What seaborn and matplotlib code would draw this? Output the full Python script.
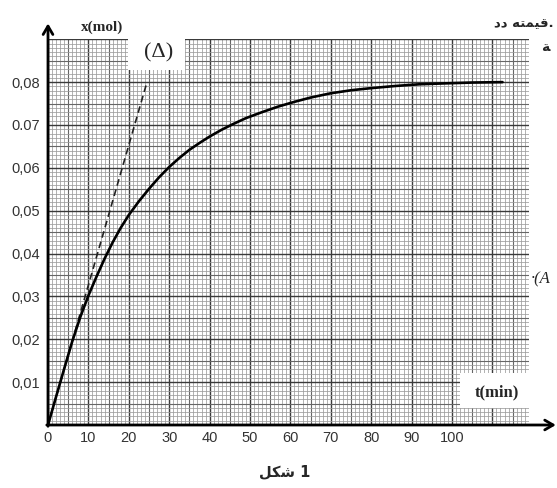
import matplotlib
matplotlib.use("Agg")
import matplotlib.pyplot as plt
import numpy as np
import pandas as pd
import seaborn as sns
from matplotlib.patches import Rectangle

# values
t_min = [0, 2, 4, 6, 8, 10, 12, 14, 16, 18, 20, 22.5, 25, 27.5, 30, 32.5, 35,
         37.5, 40, 43, 46, 49, 53, 57, 61, 65, 70, 75, 80, 86, 92, 98, 105,
         112.5]
x_mol = [0, 0.0066, 0.0131, 0.0195, 0.0252, 0.0302, 0.0346, 0.0388, 0.0426,
         0.0460, 0.0490, 0.0522, 0.0551, 0.0578, 0.0602, 0.0623, 0.0642,
         0.0658, 0.0673, 0.0689, 0.0703, 0.0716, 0.0730, 0.0743, 0.0754,
         0.0764, 0.0774, 0.0781, 0.0786, 0.0791, 0.0795, 0.0797, 0.0799,
         0.0800]

# tangent (Delta) at the origin
tangent_t = [0, 24.5]
tangent_x = [0, 0.080]

x_ticks = [0, 10, 20, 30, 40, 50, 60, 70, 80, 90, 100]
x_labels = ["0", "10", "20", "30", "40", "50", "60", "70", "80", "90", "100"]
y_ticks = [0.01, 0.02, 0.03, 0.04, 0.05, 0.06, 0.07, 0.08]
y_labels = ["0,01", "0,02", "0,03", "0,04", "0,05", "0,06", "0.07", "0,08"]

curve = pd.DataFrame({"t": t_min, "x": x_mol})
tangent = pd.DataFrame({"t": tangent_t, "x": tangent_x})

sns.set_style("white")
plt.rcParams['font.family'] = ['Liberation Sans', 'DejaVu Sans']

W, H = 557, 488
fig = plt.figure(figsize=(W / 100, H / 100), dpi=100)
XMAX, YMAX = 119, 0.09
ax = fig.add_axes([48 / W, (H - 425) / H, XMAX * 4.04 / W, YMAX * 4286 / H])
ax.set_xlim(0, XMAX)
ax.set_ylim(0, YMAX)

# graph paper
for i in range(0, XMAX + 1):
    if i % 10 == 0:
        c, lw = '#3a3a3a', 1.0
    elif i % 5 == 0:
        c, lw = '#666666', 0.8
    else:
        c, lw = '#9c9c9c', 0.55
    ax.axvline(i, color=c, lw=lw, zorder=0.5)
for j in range(0, 91):
    if j % 10 == 0:
        c, lw = '#3a3a3a', 1.0
    elif j % 5 == 0:
        c, lw = '#666666', 0.8
    else:
        c, lw = '#9c9c9c', 0.55
    ax.axhline(j * 0.001, color=c, lw=lw, zorder=0.5)

# white blanks on the paper behind labels
ax.add_patch(Rectangle((19.8, 0.0828), 14.1, 0.0075, facecolor='white',
                       edgecolor='none', zorder=1, clip_on=False))
ax.add_patch(Rectangle((102, 0.0040), 17.5, 0.0081, facecolor='white',
                       edgecolor='none', zorder=1, clip_on=False))

sns.lineplot(data=curve, x="t", y="x", ax=ax, color='black', lw=1.9,
             zorder=4, sort=False)
sns.lineplot(data=tangent, x="t", y="x", ax=ax, color='#222222', lw=1.2,
             zorder=3, dashes=False, linestyle=(0, (4, 2.5)))

for s in ax.spines.values():
    s.set_visible(False)
ax.set_xlabel("")
ax.set_ylabel("")
ax.set_xticks(x_ticks)
ax.set_xticklabels(x_labels)
ax.set_yticks(y_ticks)
ax.set_yticklabels(y_labels)
ax.tick_params(length=0, labelsize=10.5, labelcolor='#333333')
ax.tick_params(axis='x', pad=4.5)
ax.tick_params(axis='y', pad=6)

# axes with arrows
ax.annotate("", xy=(125.7, 0), xytext=(-0.3, 0), annotation_clip=False,
            arrowprops=dict(arrowstyle='->,head_length=0.6,head_width=0.35',
                            lw=2, color='black', shrinkA=0, shrinkB=0))
ax.annotate("", xy=(0, 0.0937), xytext=(0, -0.0003), annotation_clip=False,
            arrowprops=dict(arrowstyle='->,head_length=0.6,head_width=0.35',
                            lw=2, color='black', shrinkA=0, shrinkB=0))


def px(x, y):
    return x / W, 1 - y / H


fig.text(*px(102, 27), "x(mol)", family='Liberation Serif', weight='bold',
         fontsize=11, ha='center', va='center')
fig.text(*px(159, 53), "(Δ)", family='Liberation Serif', fontsize=16,
         ha='center', va='center')
fig.text(*px(497, 392), "t(min)", family='Liberation Serif', weight='bold',
         fontsize=12, ha='center', va='center')
fig.text(*px(285, 472), "\ufede\ufedc\ufeb7 1", family=['DejaVu Sans'],
         weight='bold', fontsize=10.5, ha='center', va='center')
# page text cut off at the right edge
fig.text(*px(494, 24), "\ufea9\ufea9 \ufeea\ufe98\ufee4\ufef4\ufed7.",
         family=['DejaVu Sans'], weight='bold', fontsize=9.5, ha='left',
         va='center')
fig.text(*px(541, 47), "\ufe94", family=['DejaVu Sans'], weight='bold',
         fontsize=10, ha='left', va='center')
fig.text(*px(531, 279), "·(A", family='Liberation Serif', style='italic',
         fontsize=12, ha='left', va='center')

fig.savefig("out.png", dpi=100, facecolor='white')
